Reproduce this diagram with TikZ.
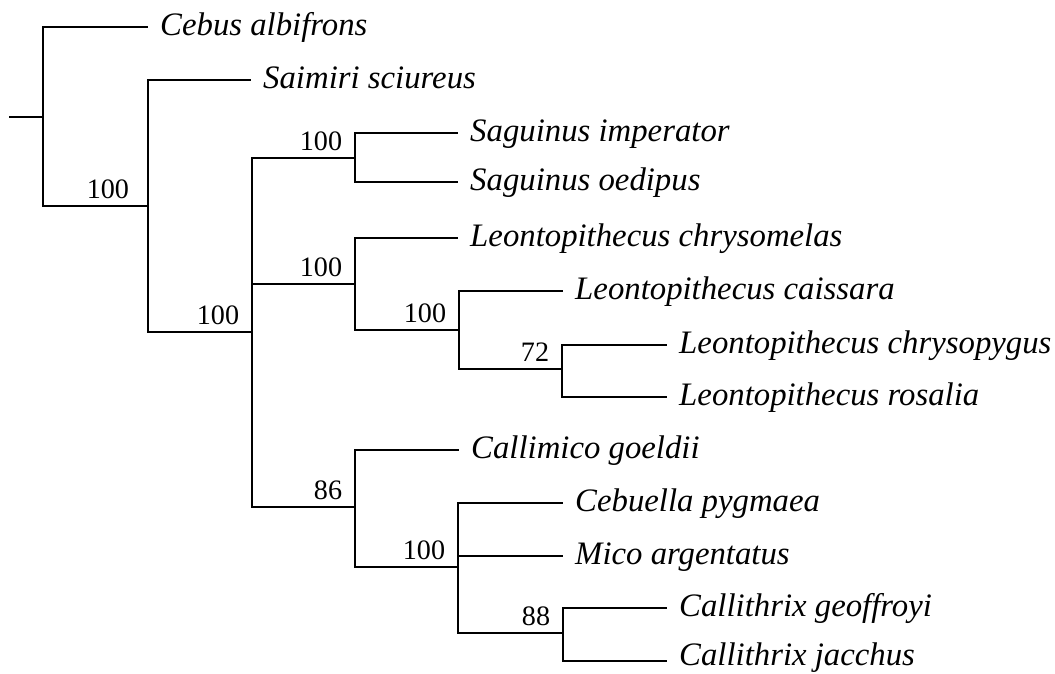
\documentclass[tikz,border=0pt]{standalone}
\usepackage{fontspec}
\setmainfont{Liberation Serif}
\usetikzlibrary{positioning}

\begin{document}
\begin{tikzpicture}[x=0.025cm,y=-0.025cm,node distance=8pt,line width=1.4pt,
taxon/.style={font=\fontsize{23.3}{24}\selectfont\itshape,inner sep=0pt,text height=17.5pt,text depth=5.8pt},
support/.style={font=\fontsize{20}{20}\selectfont,inner sep=0pt}]
\useasboundingbox (0,0) rectangle (1055,673);
% internal nodes
\coordinate (root) at (9,117);
\coordinate (nA) at (43,117);
\coordinate (nB) at (148,206);
\coordinate (nC) at (252,332);
\coordinate (nD) at (355,158);
\coordinate (nE) at (355,284);
\coordinate (nF) at (459,330);
\coordinate (nG) at (562,369);
\coordinate (nH) at (355,507);
\coordinate (nI) at (458,567);
\coordinate (nJ) at (563,633);
% tips
\coordinate (t1) at (148,27);
\coordinate (t2) at (251,80);
\coordinate (t3) at (458,133);
\coordinate (t4) at (458,182);
\coordinate (t5) at (458,238);
\coordinate (t6) at (563,291);
\coordinate (t7) at (667,345);
\coordinate (t8) at (667,397);
\coordinate (t9) at (459,450);
\coordinate (t10) at (563,503);
\coordinate (t11) at (563,556);
\coordinate (t12) at (667,608);
\coordinate (t13) at (667,661);
% taxa
\node[taxon,right=of t1](cebus){Cebus albifrons};
\node[taxon,right=of t2](saimiri){Saimiri sciureus};
\node[taxon,right=of t3](sagimp){Saguinus imperator};
\node[taxon,right=of t4](sagoed){Saguinus oedipus};
\node[taxon,right=of t5](leochm){Leontopithecus chrysomelas};
\node[taxon,right=of t6](leocai){Leontopithecus caissara};
\node[taxon,right=of t7](leochp){Leontopithecus chrysopygus};
\node[taxon,right=of t8](leoros){Leontopithecus rosalia};
\node[taxon,right=of t9](callimico){Callimico goeldii};
\node[taxon,right=of t10](cebuella){Cebuella pygmaea};
\node[taxon,right=of t11](mico){Mico argentatus};
\node[taxon,right=of t12](calgeo){Callithrix geoffroyi};
\node[taxon,right=of t13,yshift=3pt](caljac){Callithrix jacchus};
% support values
\node[support,above left=4.3pt and 12.8pt of nB](sB){100};
\node[support,above left=4.3pt and 8.5pt of nC](sC){100};
\node[support,above left=4.3pt and 8.5pt of nD](sD){100};
\node[support,above left=4.3pt and 8.5pt of nE](sE){100};
\node[support,above left=4.3pt and 8.5pt of nF](sF){100};
\node[support,above left=4.3pt and 8.5pt of nG](sG){72};
\node[support,above left=4.3pt and 8.5pt of nH](sH){86};
\node[support,above left=4.3pt and 8.5pt of nI](sI){100};
\node[support,above left=4.3pt and 8.5pt of nJ](sJ){88};
% branches
\draw(root)--(nA);
\draw(nA)|-(t1);\draw(nA)|-(nB);
\draw(nB)|-(t2);\draw(nB)|-(nC);
\draw(nC)|-(nD);\draw(nC)|-(nE);\draw(nC)|-(nH);
\draw(nD)|-(t3);\draw(nD)|-(t4);
\draw(nE)|-(t5);\draw(nE)|-(nF);
\draw(nF)|-(t6);\draw(nF)|-(nG);
\draw(nG)|-(t7);\draw(nG)|-(t8);
\draw(nH)|-(t9);\draw(nH)|-(nI);
\draw(nI)|-(t10);\draw(nI)|-(t11);\draw(nI)|-(nJ);
\draw(nJ)|-(t12);\draw(nJ)|-(t13);
\end{tikzpicture}
\end{document}
